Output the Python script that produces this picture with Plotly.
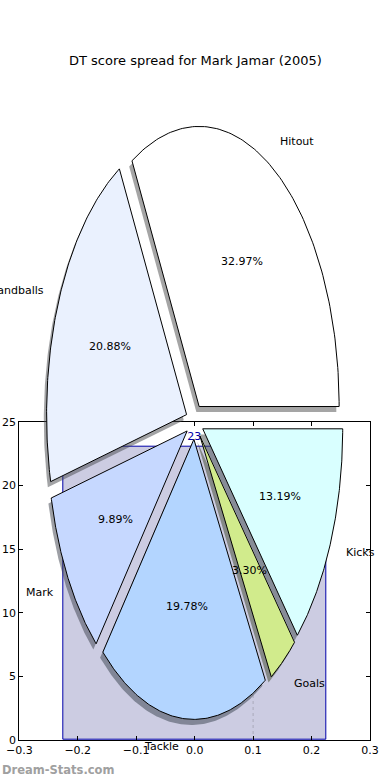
import numpy as np
import plotly.graph_objects as go

# ---------------- data ----------------
title_text = "DT score spread for Mark Jamar (2005)"
slice_labels = ["Hitout", "Handballs", "Mark", "Tackle", "Goals", "Kicks"]
slice_counts = [30, 19, 9, 18, 3, 12]
slice_colors = ["#ffffff", "#eaf1fe", "#c6d8ff", "#b3d5ff", "#d1eb8c", "#d9ffff"]
bar_x = [0.0]
bar_y = [23]
marker_x = [0.1, 0.1]
marker_y = [0, 4]
x_tickvals = [-0.3, -0.2, -0.1, 0.0, 0.1, 0.2, 0.3]
x_ticktext = ["\u22120.3", "\u22120.2", "\u22120.1", "0.0", "0.1", "0.2", "0.3"]
y_tickvals = [0, 5, 10, 15, 20, 25]

# ---------------- geometry (styles / layout) ----------------
W, H = 390, 780
ax_l, ax_r, ax_t, ax_b = 19.3, 370.0, 421.7, 740.0
xr = (-0.3, 0.3)
yr = (0.0, 25.0)
ux = (xr[1] - xr[0]) / (ax_r - ax_l)   # data per px
uy = (yr[1] - yr[0]) / (ax_b - ax_t)
pie_cx, pie_cy = 0.0, 25.0
pie_rx, pie_ry = 0.2395, 22.0
explode = 0.063
shadow_off = 0.02
FONT = "DejaVu Sans"

fig = go.Figure()

# background bar on primary axes
fig.add_trace(go.Bar(
    x=bar_x, y=bar_y, width=0.45,
    marker=dict(color="rgb(204,204,226)", line=dict(color="#0000aa", width=1)),
    text=[str(v) for v in bar_y], textposition="outside", cliponaxis=False,
    textfont=dict(family=FONT, size=11, color="#0000aa"),
    xaxis="x", yaxis="y", showlegend=False, hoverinfo="skip"))
fig.add_trace(go.Scatter(
    x=marker_x, y=marker_y, mode="lines",
    line=dict(color="#aaaabb", width=1, dash="dot"),
    xaxis="x", yaxis="y", showlegend=False, hoverinfo="skip"))

# pie wedges on overlay axes covering the whole figure
total = float(sum(slice_counts))
angles = np.cumsum([0] + [c / total * 360.0 for c in slice_counts])


def hex_rgb(h):
    h = h.lstrip("#")
    return tuple(int(h[i:i + 2], 16) for i in (0, 2, 4))


wedges = []
for i, lab in enumerate(slice_labels):
    t1, t2 = angles[i], angles[i + 1]
    mid = np.deg2rad((t1 + t2) / 2)
    ox = pie_cx + pie_rx * explode * np.cos(mid)
    oy = pie_cy + pie_ry * explode * np.sin(mid)
    ts = np.deg2rad(np.linspace(t1, t2, 120))
    xs = np.concatenate([[ox], ox + pie_rx * np.cos(ts), [ox]])
    ys = np.concatenate([[oy], oy + pie_ry * np.sin(ts), [oy]])
    wedges.append((xs, ys, mid, ox, oy))

for i, (xs, ys, mid, ox, oy) in enumerate(wedges):
    r, g, b = hex_rgb(slice_colors[i])
    fig.add_trace(go.Scatter(
        x=xs - shadow_off * pie_rx, y=ys - shadow_off * pie_ry,
        mode="lines", fill="toself", line=dict(width=0),
        fillcolor=f"rgba({int(r*0.3)},{int(g*0.3)},{int(b*0.3)},0.5)",
        xaxis="x2", yaxis="y2", showlegend=False, hoverinfo="skip"))

for i, (xs, ys, mid, ox, oy) in enumerate(wedges):
    fig.add_trace(go.Scatter(
        x=xs, y=ys, mode="lines", fill="toself",
        line=dict(color="black", width=1), fillcolor=slice_colors[i],
        xaxis="x2", yaxis="y2", showlegend=False, hoverinfo="skip"))

annotations = []
for i, (xs, ys, mid, ox, oy) in enumerate(wedges):
    lx = pie_cx + pie_rx * (1.1 + explode) * np.cos(mid)
    ly = pie_cy + pie_ry * (1.1 + explode) * np.sin(mid)
    annotations.append(dict(
        x=lx, y=ly, xref="x2", yref="y2", text=slice_labels[i], showarrow=False,
        xanchor="left" if np.cos(mid) > 0 else "right", yanchor="middle",
        font=dict(family=FONT, size=11, color="black")))
    px_ = pie_cx + pie_rx * (0.6 + explode) * np.cos(mid)
    py_ = pie_cy + pie_ry * (0.6 + explode) * np.sin(mid)
    annotations.append(dict(
        x=px_, y=py_, xref="x2", yref="y2",
        text=f"{slice_counts[i] / total * 100:.2f}%", showarrow=False,
        xanchor="center", yanchor="middle",
        font=dict(family=FONT, size=11, color="black")))

annotations.append(dict(
    x=0.5, y=1 - 61 / H, xref="paper", yref="paper", text=title_text,
    showarrow=False, xanchor="center", yanchor="middle",
    font=dict(family=FONT, size=13, color="black")))
annotations.append(dict(
    x=0.0, y=1 - 770 / H, xref="paper", yref="paper", text="<b>Dream-Stats.com</b>",
    showarrow=False, xanchor="left", yanchor="middle",
    font=dict(family=FONT, size=11.5, color="#a0a0a0")))

axis_common = dict(
    showgrid=False, zeroline=False, showline=True, linecolor="black",
    linewidth=1, mirror="ticks", ticks="inside", ticklen=4, tickcolor="black",
    automargin=False,
    tickfont=dict(family=FONT, size=11, color="black"))

fig.update_layout(
    template="none",
    width=W, height=H, margin=dict(l=0, r=0, t=0, b=0, pad=0),
    paper_bgcolor="white", plot_bgcolor="rgba(0,0,0,0)", showlegend=False,
    bargap=0,
    xaxis=dict(domain=[ax_l / W, ax_r / W], range=list(xr), anchor="y",
               tickvals=x_tickvals, ticktext=x_ticktext, **axis_common),
    yaxis=dict(domain=[(H - ax_b) / H, (H - ax_t) / H], range=list(yr),
               anchor="x", tickvals=y_tickvals, **axis_common),
    xaxis2=dict(domain=[0, 1], anchor="y2", visible=False, automargin=False,
                range=[xr[0] - ax_l * ux, xr[1] + (W - ax_r) * ux]),
    yaxis2=dict(domain=[0, 1], anchor="x2", visible=False, automargin=False,
                range=[yr[0] - (H - ax_b) * uy, yr[1] + ax_t * uy]),
    annotations=annotations,
)

fig.write_html("out.html", config={"displayModeBar": False},
               post_script="document.body.style.margin='0';document.body.style.overflow='hidden';")
